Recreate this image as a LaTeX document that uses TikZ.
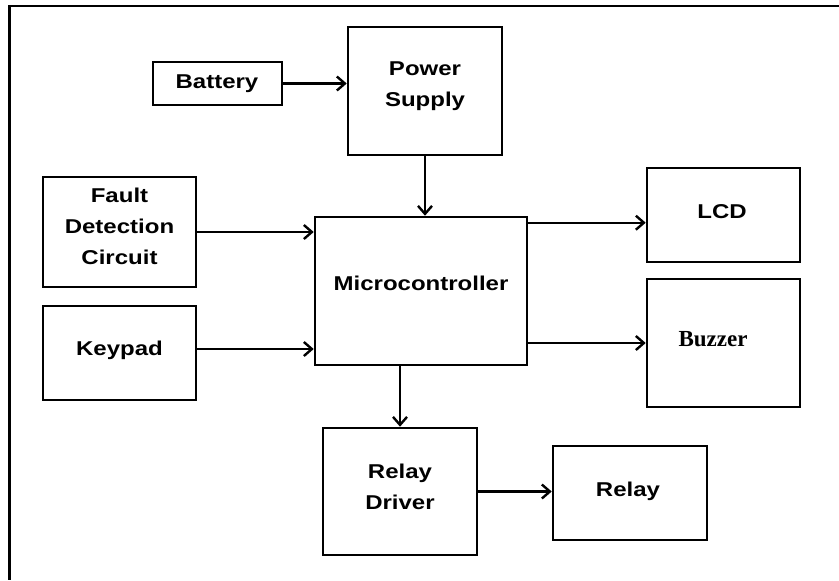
\documentclass[tikz,border=0pt]{standalone}
\usepackage{fontspec}
\setmainfont{Liberation Sans}[FakeStretch=1.2]
\newfontfamily\serifbuz{Liberation Serif}
\usetikzlibrary{arrows.meta}

\tikzset{
  blk/.style={draw, line width=1.3pt, rectangle, minimum width=76.5pt},
  lbl/.style={font=\fontsize{10}{15.5}\selectfont\bfseries, align=center, inner sep=0pt},
  conn/.style={line width=1.2pt, -{Straight Barb[length=4pt,width=7pt,line width=1.2pt]}}
}

\begin{document}
\begin{tikzpicture}[x=0.5pt, y=-0.5pt]
    \useasboundingbox (0,0) rectangle (839,580);

    % Outer frame
    \draw[line width=1.3pt] (839,6) -- (9.5,6) -- (9.5,580);

    % Blocks
    \node[blk, minimum width=64.5pt, minimum height=21.5pt] (bat) at (217.5,83.5) {};
    \node[blk, minimum width=77pt, minimum height=64pt] (ps) at (425,91) {};
    \node[blk, minimum height=55pt] (fdc) at (119.5,232) {};
    \node[blk, minimum height=47pt] (key) at (119.5,353) {};
    \node[blk, minimum width=106pt, minimum height=74pt] (mc) at (421,291) {};
    \node[blk, minimum height=47pt] (lcd) at (723.5,215) {};
    \node[blk, minimum height=64pt] (buz) at (723.5,343) {};
    \node[blk, minimum width=77pt, minimum height=63.5pt] (rd) at (400,491.5) {};
    \node[blk, minimum width=77pt, minimum height=47pt] (rly) at (630,493) {};

    % Labels
    \node[lbl, anchor=base] (batT) at (217,88) {Battery};
    \node[lbl] (psT) at (425,86) {Power\\Supply};
    \node[lbl] (fdcT) at (119.5,226.5) {Fault\\Detection\\Circuit};
    \node[lbl, anchor=base] (keyT) at (119.5,355) {Keypad};
    \node[lbl, anchor=base] (mcT) at (421,290) {Microcontroller};
    \node[lbl, anchor=base] (lcdT) at (722,218) {LCD};
    \node[font=\serifbuz\fontsize{11.5}{14}\selectfont\bfseries, anchor=base, inner sep=0pt]
        (buzT) at (713,346.5) {Buzzer};
    \node[lbl] (rdT) at (400,487) {Relay\\Driver};
    \node[lbl, anchor=base] (rlyT) at (628,496) {Relay};

    % Connectors
    \draw[conn] (bat) -- (bat -| ps.west);
    \draw[conn] (ps.south) -- (ps.south |- mc.north);
    \draw[conn] (fdc) -- (fdc -| mc.west);
    \draw[conn] ([yshift=2pt]key.east) -- ([yshift=2pt]key.east -| mc.west);
    \draw[conn] ([yshift=-3.5pt]mc.north east) -- ([yshift=-3.5pt]mc.north east -| lcd.west);
    \draw[conn] (buz -| mc.east) -- (buz.west);
    \draw[conn] (rd.north |- mc.south) -- (rd.north);
    \draw[conn] (rd) -- (rd -| rly.west);
\end{tikzpicture}
\end{document}
